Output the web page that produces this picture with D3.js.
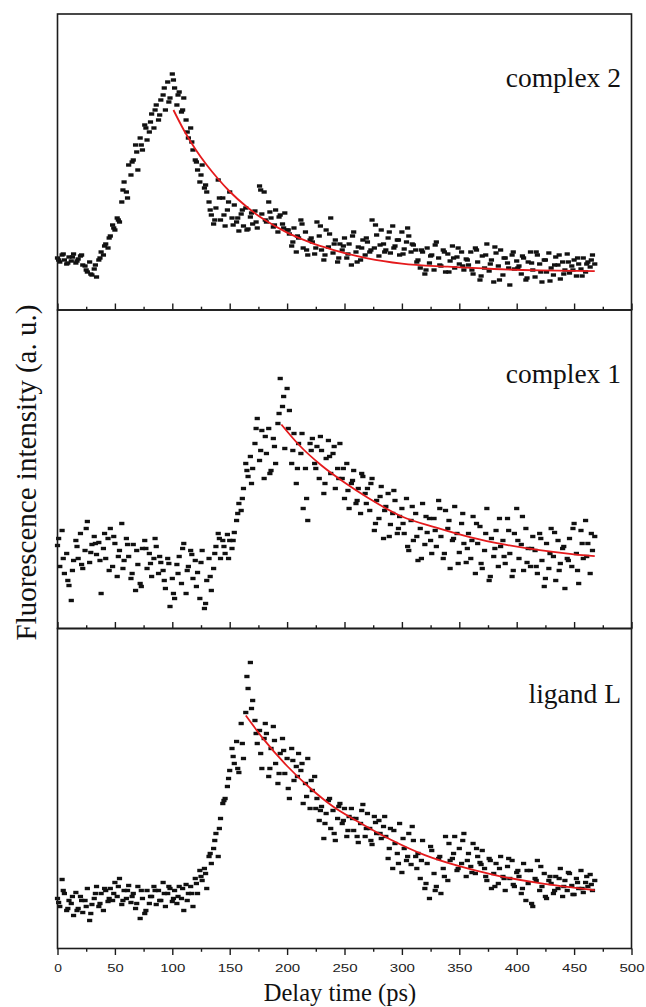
<!DOCTYPE html>
<html>
<head>
<meta charset="utf-8">
<script src="https://cdn.jsdelivr.net/npm/d3@7"></script>
<style>
  html, body { margin: 0; padding: 0; background: #fff; }
  svg { display: block; }
</style>
</head>
<body>
<div id="chart"></div>
<script>
// ---------- data (intensity in a.u.) ----------
const delayTimes = d3.range(0, 469, 2);   // ps, main sampling grid (235 points)
const delayTimesB = d3.range(1, 466, 4);  // ps, interleaved samples (117 points)
const xTickValues = [0, 50, 100, 150, 200, 250, 300, 350, 400, 450, 500];
const xMinorTicks = [25, 75, 125, 175, 225, 275, 325, 375, 425, 475];
const panelLabels = ["complex 2", "complex 1", "ligand L"];
const panelMax = [296, 318.5, 320];

const complex2 = [
  52,48,55,50,46,53,49,56,47,51,54,45,
  44,38,48,35,41,33,
  50,58,55,66,62,
  74,85,80,92,88,
  108,128,118,145,135,
  150,165,140,172,
  160,185,170,178,
  196,182,205,190,210,
  215,200,228,212,236,
  222,205,218,198,212,
  190,172,182,160,150,
  140,128,145,122,118,
  108,95,86,102,130,
  90,112,84,100,118,92,105,
  88,79,96,84,102,81,93,86,99,82,
  124,96,118,88,108,
  92,83,100,78,95,86,97,80,
  76,64,82,58,72,90,62,78,55,70,
  68,56,88,74,60,50,80,63,92,57,70,48,66,
  60,72,52,66,45,78,58,63,50,70,55,
  68,58,90,62,75,54,80,66,60,72,57,84,64,70,55,78,61,68,74,58,65,60,
  50,42,58,36,62,47,55,40,68,52,44,60,38,56,49,64,42,53,46,58,40,51,
  45,58,36,62,48,30,54,42,66,39,50,28,57,44,60,35,52,47,25,55,41,49,
  44,36,52,30,48,58,40,33,55,46,28,50,38,57,42,35,53,45,31,48,40,56,37,44,50,34,46,41,52,38,48,43,55,46
];
const complex2B = [
  50,56,47,53,49,55, 40,36,45, 52,64,72, 82,90, 120,112,148, 158,165,182,
  188,200,195, 222,208,230, 215,200, 178,168, 148,135,125, 100,90,112,
  95,108,85, 92,100,80,97,88, 120,90, 98,85,93,82, 80,68,74,86,60,
  72,62,84,55,76,66,52, 64,56,74,48,62,
  72,60,85,65,58,78,62,70,56,82,66,
  48,60,40,54,65,45,58,38,52,62,44,
  50,40,60,34,55,46,63,30,52,42,58,
  42,54,32,47,58,38,50,29,45,55,36,48,40,52,34,46,50
];

const complex1 = [
  83,62,98,55,75,43,28,68,
  88,70,95,60,78,107,66,84,
  92,74,86,35,80,70,90,
  100,62,85,52,78,105,68,90,
  72,50,84,38,64,45,80,
  88,60,75,52,70,82,55,66,
  58,40,70,22,50,30,64,
  72,45,85,35,62,78,50,68,
  56,30,78,20,48,70,38,
  60,82,95,70,88,
  75,94,88,80,96,
  108,125,118,
  140,165,152,172,160,
  185,210,168,198,150,
  175,200,158,190,165,
  205,250,222,180,240,
  218,165,195,145,185,
  175,120,160,108,185,
  190,165,182,150,178,135,170,188,155,175,140,160,185,
  150,130,165,120,145,158,125,140,115,152,135,
  140,118,150,98,128,110,142,90,122,135,104,115,128,95,112,
  120,95,130,78,108,88,115,68,100,125,84,96,110,75,
  110,82,128,92,70,118,100,60,88,122,95,76,105,85,66,
  95,70,112,55,85,102,60,78,120,48,90,72,98,62,82,
  88,65,110,75,52,95,120,70,84,58,100,80,62,92,
  78,55,95,68,42,85,60,100,72,48,88,65,80,40,70,
  90,62,105,75,45,98,70,108,85,55,78,92
];
const complex1B = [
  90,70,48,58, 82,64,100,76, 85,68,95,58, 92,72,60,84, 55,78,42,
  80,65,90,72, 48,65,35,55, 80,58,74, 42,66,25,52, 75,90,82, 70,88,115,
  130,158,145, 200,178,192, 155,182,215, 232,200,178, 160,195,130,
  178,160,192,145,172,182,150, 160,138,148,128,155,
  125,145,105,132,118,92,138,100, 105,82,122,92,70,112,88,
  98,120,75,108,90,65,115,80, 88,105,65,95,52,80,110,
  72,98,58,88,112,66,80, 62,90,50,75,96,58,82, 68,100,58,85,72,95
];

const ligandL = [
  50,42,69,55,38,48,
  45,33,56,40,52,36,48,60,28,44,
  50,62,42,55,38,58,47,
  60,48,66,52,70,44,58,50,63,46,
  55,40,62,30,50,35,58,45,
  52,62,44,58,48,66,42,55,60,47,
  58,45,62,50,38,64,55,
  62,42,70,55,78,
  68,80,60,92,85,
  100,115,92,130,
  145,150,162,
  178,200,185,207,176,
  225,190,236,
  260,286,248,
  228,205,218,180,210,
  215,172,200,222,185,165,195,
  210,175,190,150,200,168,182,195,
  178,145,165,190,140,158,172,
  150,128,142,110,135,148,120,138,108,130,145,
  125,140,112,132,
  140,118,130,106,125,144,112,135,120,104,132,115,128,110,122,
  112,90,120,80,105,95,125,76,100,88,115,84,108,92,
  95,70,108,60,85,50,98,75,62,90,55,80,112,68,88,
  90,112,78,100,85,115,72,95,82,105,75,92,86,98,
  80,68,90,60,75,85,65,92,72,58,82,70,88,62,76,
  72,55,85,48,65,78,42,70,88,58,62,75,50,68,
  65,55,72,60,80,52,68,58,75,63,54,70,60,78,56,66,62,74,58,68
];
const ligandLB = [
  46,58,40, 52,38,48,42,35, 55,45,60,50, 55,62,48,58,52, 45,58,38,52,
  58,48,55,62,50, 52,60,48, 55,65,72, 75,95,108, 120,148, 170,192,180,
  205,272,240, 215,195,225, 180,208,175, 198,160,188,172, 185,152,168,140,
  138,125,150,115,142,128,118, 130,112,138,120,108,126,115,132,
  100,118,85,110,92,122,80, 88,65,102,58,92,72,105,
  95,80,108,88,76,100,84, 72,88,62,80,70,90,64,78,
  60,78,45,68,82,52,72, 58,70,62,76,54,66,60,72,64
];

// exponential-decay fits
const fit2Times  = [101,110,120,130,140,150,165,180,200,220,240,270,300,340,380,420,468];
const fit2Values = [200,180,161,145,131,118.5,103,90.4,77.4,67.6,60.2,51.7,46.4,43.3,41,39.7,38.9];
const fit1Times  = [195,210,230,250,270,300,330,360,390,420,450,468];
const fit1Values = [204,184,163,146,131,112,100.8,91.1,83.8,78.3,74.2,72.3];
const fitLTimes  = [164,180,200,220,240,260,290,320,350,380,420,468];
const fitLValues = [233,208.6,182.5,160.5,142,128,109,93.4,82.3,73.7,65.3,58.4];

const seriesList = [complex2, complex1, ligandL];
const seriesListB = [complex2B, complex1B, ligandLB];
const fitTimes = [fit2Times, fit1Times, fitLTimes];
const fitValues = [fit2Values, fit1Values, fitLValues];

// ---------- layout ----------
const W = 646, H = 1007;
const left = 57.5, right = 631.5;
const panelBounds = [[14, 310], [310, 628.5], [628.5, 948.5]];
const labelBaselines = [86.7, 382.5, 703];

const svg = d3.select("#chart").append("svg")
  .attr("width", W).attr("height", H)
  .attr("viewBox", `0 0 ${W} ${H}`);
svg.append("rect").attr("width", W).attr("height", H).attr("fill", "#fff");

const x = d3.scaleLinear().domain([0, 500]).range([left, right]);
const frameColor = "#1c1c1c";

panelBounds.forEach(([top, bottom], p) => {
  const y = d3.scaleLinear().domain([0, panelMax[p]]).range([bottom, top]);
  const g = svg.append("g");
  const isLast = p === panelBounds.length - 1;

  // ticks along the bottom edge of each panel
  const majorAxis = (isLast ? d3.axisBottom(x) : d3.axisTop(x))
    .tickValues(xTickValues).tickSize(6.5).tickFormat(isLast ? d3.format("d") : () => "");
  const minorAxis = (isLast ? d3.axisBottom(x) : d3.axisTop(x))
    .tickValues(xMinorTicks).tickSize(3.3).tickFormat(() => "");
  [majorAxis, minorAxis].forEach(ax => {
    const a = g.append("g").attr("transform", `translate(0,${bottom})`).call(ax);
    a.select(".domain").remove();
    a.selectAll(".tick line").attr("stroke", frameColor).attr("stroke-width", 1.4);
    a.selectAll(".tick text")
      .attr("fill", "#222")
      .attr("font-family", "'Liberation Sans', Arial, sans-serif")
      .attr("font-size", 11)
      .attr("y", 23.5).attr("dy", null)
      .each(function() {
        const s = d3.select(this).text();
        if (s) d3.select(this).attr("textLength", s.length * 8.7 - 1).attr("lengthAdjust", "spacingAndGlyphs");
      });
  });

  // scatter points (dash-like markers)
  const data = delayTimes.map((t, i) => ({ t, v: seriesList[p][i] }))
    .concat(delayTimesB.map((t, i) => ({ t, v: seriesListB[p][i] })));
  g.append("g").selectAll("rect").data(data).join("rect")
    .attr("x", d => x(d.t) - 2.6)
    .attr("y", d => y(d.v) - 1.7)
    .attr("width", 5.2).attr("height", 3.4)
    .attr("fill", "#111");

  // fit curve
  const fitData = fitTimes[p].map((t, i) => ({ t, v: fitValues[p][i] }));
  g.append("path").datum(fitData)
    .attr("fill", "none")
    .attr("stroke", "#e41a1c")
    .attr("stroke-width", 1.8)
    .attr("d", d3.line().x(d => x(d.t)).y(d => y(d.v)).curve(d3.curveMonotoneX));

  // frame
  g.append("rect")
    .attr("x", left).attr("y", top)
    .attr("width", right - left).attr("height", bottom - top)
    .attr("fill", "none").attr("stroke", frameColor).attr("stroke-width", 1.6);

  // panel label
  g.append("text")
    .attr("x", 621).attr("y", labelBaselines[p])
    .attr("text-anchor", "end")
    .attr("font-family", "'Liberation Serif', 'Times New Roman', serif")
    .attr("font-size", 27.5)
    .attr("fill", "#111")
    .text(panelLabels[p]);
});

// axis titles
svg.append("text")
  .attr("x", 340).attr("y", 1000.5)
  .attr("text-anchor", "middle")
  .attr("font-family", "'Liberation Serif', 'Times New Roman', serif")
  .attr("font-size", 24.5)
  .attr("fill", "#111")
  .text("Delay time (ps)");

svg.append("text")
  .attr("transform", "translate(36,472.5) rotate(-90)")
  .attr("text-anchor", "middle")
  .attr("font-family", "'Liberation Serif', 'Times New Roman', serif")
  .attr("font-size", 29)
  .attr("fill", "#111")
  .text("Fluorescence intensity (a. u.)");
</script>
</body>
</html>
